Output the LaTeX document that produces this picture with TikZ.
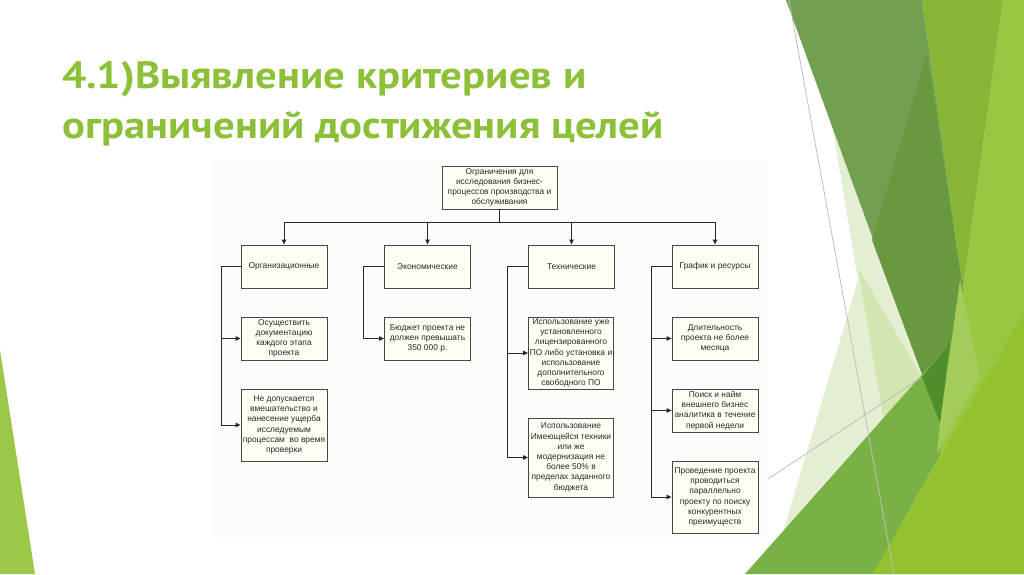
\documentclass[tikz,border=0pt]{standalone}
\usepackage{fontspec}
\setmainfont{Liberation Sans}
\newfontfamily\titlefont[FakeStretch=1.125]{PT Sans}
\usetikzlibrary{arrows.meta}
\definecolor{titlegreen}{RGB}{140,192,56}
\definecolor{gdark}{RGB}{112,160,80}
\definecolor{gdarkin}{RGB}{104,153,64}
\definecolor{gyellow}{RGB}{136,181,52}
\definecolor{gright}{RGB}{154,199,65}
\definecolor{gbotright}{RGB}{147,193,48}
\definecolor{gband}{RGB}{121,177,70}
\definecolor{gdeep}{RGB}{79,143,43}
\definecolor{glight}{RGB}{163,204,92}
\definecolor{gpale}{RGB}{227,238,210}
\definecolor{gpalemid}{RGB}{211,230,177}
\definecolor{gleft}{RGB}{156,200,72}
\definecolor{thinline}{RGB}{190,190,190}
\definecolor{diagbg}{RGB}{252,252,250}
\definecolor{boxfill}{RGB}{255,254,245}
\definecolor{boxline}{RGB}{70,70,70}
\definecolor{boxtext}{RGB}{40,40,40}
\definecolor{connc}{RGB}{40,40,40}
\begin{document}
\begin{tikzpicture}[x=1pt,y=-1pt,
  box/.style={draw=boxline, fill=boxfill, line width=0.9pt, inner sep=0pt,
    align=center, text=boxtext, font=\fontsize{8.4}{10.2}\selectfont,
    minimum width=86pt},
  conn/.style={draw=connc, line width=0.9pt},
  arr/.style={conn, -{Triangle[length=5pt,width=4.5pt]}},
  ttl/.style={anchor=base west, inner sep=0pt, text=titlegreen,
    font=\titlefont\bfseries\fontsize{38}{46}\selectfont}
]
\useasboundingbox (0,0) rectangle (1024,574);
\fill[white] (0,0) rectangle (1024,574);

% background facets
\fill[gleft] (0,350) -- (35,574) -- (0,574) -- cycle;
\fill[gright] (1003,0) -- (1024,0) -- (1024,574) -- (873,574) -- (940,423) -- (963,290) -- cycle;
\fill[gyellow] (922,0) -- (1003,0) -- (963,290) -- cycle;
\fill[gpale] (832,125) -- (858,280) -- (780,542) -- (922,377) -- cycle;
\fill[gpalemid] (858,268) -- (922,377) -- (884,422) -- cycle;
\fill[gdark] (786,0) -- (922,0) -- (963,290) -- (940,423) -- cycle;
\fill[gdarkin] (927,53) -- (963,290) -- (940,423) -- (872,240) -- cycle;
\fill[gband] (745,574) -- (950,343) -- (940,455) -- (873,574) -- cycle;
\fill[glight] (960,280) -- (980,377) -- (937,453) -- (940,423) -- cycle;
\fill[gbotright] (873,574) -- (1024,313) -- (1024,574) -- cycle;
\fill[gdeep] (922,377) -- (950,343) -- (940,423) -- cycle;
\draw[thinline, line width=0.8pt] (789,0) -- (894,574);
\draw[thinline, line width=0.8pt] (700,524) -- (922,377);

% title
\node[ttl] (t1) at (62,88) {4.1)Выявление критериев и};
\node[ttl] (t2) at (62,138) {ограничений достижения целей};

% diagram background
\fill[diagbg] (212,160) rectangle (768,537);

% boxes
\node[box, minimum width=115pt, minimum height=43pt] (top) at (499.5,187.5)
  {Ограничения для\\исследования бизнес-\\процессов производства и\\обслуживания};
\node[box, minimum height=43pt] (org) at (284,266.5) {Организационные};
\node[box, minimum height=43pt] (eco) at (427.5,266.5) {Экономические};
\node[box, minimum height=43pt] (tech) at (571.5,266.5) {Технические};
\node[box, minimum height=43pt] (graf) at (715,266.5) {График и ресурсы};

\node[box, minimum height=43pt] (org1) at (284,338.5)
  {Осуществить\\документацию\\каждого этапа\\проекта};
\node[box, minimum height=72pt] (org2) at (284,425)
  {Не допускается\\вмешательство и\\нанесение ущерба\\исследуемым\\процессам\ \ во время\\проверки};
\node[box, minimum height=43pt] (eco1) at (427.5,338.5)
  {Бюджет проекта не\\должен превышать\\350 000 р.};
\node[box, minimum width=85pt, minimum height=72pt] (tech1) at (571,353)
  {Использование уже\\установленного\\лицензированного\\ПО либо установка и\\использование\\дополнительного\\свободного ПО};
\node[box, minimum width=85pt, minimum height=79pt] (tech2) at (571,457.5)
  {Использование\\Имеющейся техники\\или же\\модернизация не\\более 50\% в\\пределах заданного\\бюджета};
\node[box, minimum height=43pt] (graf1) at (715,338.5)
  {Длительность\\проекта не более\\месяца};
\node[box, minimum height=43pt] (graf2) at (715,410.5)
  {Поиск и найм\\внешнего бизнес\\аналитика в течение\\первой недели};
\node[box, minimum height=72pt] (graf3) at (715,497)
  {Проведение проекта\\проводиться\\параллельно\\проекту по поиску\\конкурентных\\преимуществ};

% bus
\coordinate (bus) at (499.5,222);
\draw[conn] (top.south) -- (bus);
\draw[conn] (org.north |- bus) -- (graf.north |- bus);
\draw[arr] (org.north |- bus) -- (org.north);
\draw[arr] (eco.north |- bus) -- (eco.north);
\draw[arr] (tech.north |- bus) -- (tech.north);
\draw[arr] (graf.north |- bus) -- (graf.north);

% side branches
\coordinate (orgx) at (221,266.5);
\coordinate (ecox) at (363,266.5);
\coordinate (techx) at (507,266.5);
\coordinate (grafx) at (651,266.5);

\draw[conn] (org.west) -- (orgx) -- (orgx |- org2.west);
\draw[arr] (orgx |- org1.west) -- (org1.west);
\draw[arr] (orgx |- org2.west) -- (org2.west);

\draw[conn] (eco.west) -- (ecox) -- (ecox |- eco1.west);
\draw[arr] (ecox |- eco1.west) -- (eco1.west);

\draw[conn] (tech.west) -- (techx) -- (techx |- tech2.west);
\draw[arr] (techx |- tech1.west) -- (tech1.west);
\draw[arr] (techx |- tech2.west) -- (tech2.west);

\draw[conn] (graf.west) -- (grafx) -- (grafx |- graf3.west);
\draw[arr] (grafx |- graf1.west) -- (graf1.west);
\draw[arr] (grafx |- graf2.west) -- (graf2.west);
\draw[arr] (grafx |- graf3.west) -- (graf3.west);
\end{tikzpicture}
\end{document}
